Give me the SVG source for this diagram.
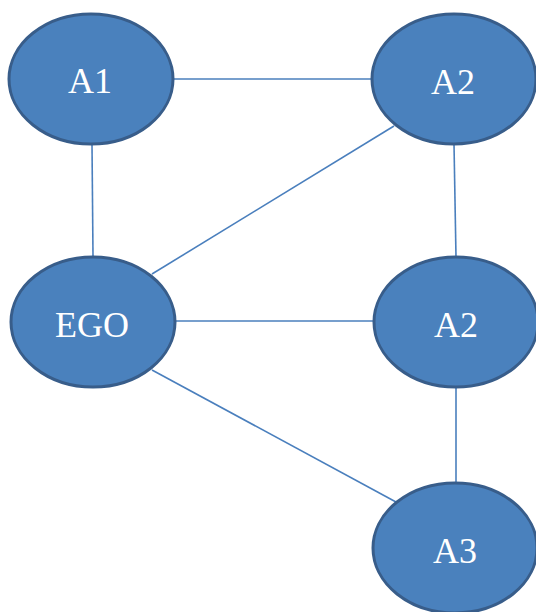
<svg xmlns="http://www.w3.org/2000/svg" width="536" height="612" viewBox="0 0 536 612">
<style>
.node ellipse{fill:#4a81bd;stroke:#385d8a;stroke-width:3}
.node text{fill:#ffffff;font-family:"Liberation Serif","Times New Roman",serif;font-size:36px;text-anchor:middle}
.edge{stroke:#4a7fbd;stroke-width:1.6;fill:none}
</style>
<rect width="536" height="612" fill="#ffffff"/>
<g id="connectors">
<line class="edge" x1="173" y1="79" x2="372" y2="79"/>
<line class="edge" x1="92" y1="144" x2="93" y2="256"/>
<line class="edge" x1="394" y1="126" x2="152" y2="274"/>
<line class="edge" x1="454" y1="144" x2="456" y2="257"/>
<line class="edge" x1="176" y1="321" x2="374" y2="321"/>
<line class="edge" x1="152" y1="370" x2="396" y2="502"/>
<line class="edge" x1="456" y1="387" x2="456" y2="483"/>
</g>
<g id="A1" class="node"><ellipse cx="91" cy="79" rx="82" ry="65"/><text x="90" y="93">A1</text></g>
<g id="A2top" class="node"><ellipse cx="454" cy="79" rx="82" ry="65"/><text x="453" y="94">A2</text></g>
<g id="EGO" class="node"><ellipse cx="93" cy="322" rx="82" ry="65"/><text x="92" y="337">EGO</text></g>
<g id="A2mid" class="node"><ellipse cx="456" cy="322" rx="82" ry="65"/><text x="456" y="337">A2</text></g>
<g id="A3" class="node"><ellipse cx="455" cy="548" rx="82" ry="65"/><text x="455" y="563">A3</text></g>
</svg>
